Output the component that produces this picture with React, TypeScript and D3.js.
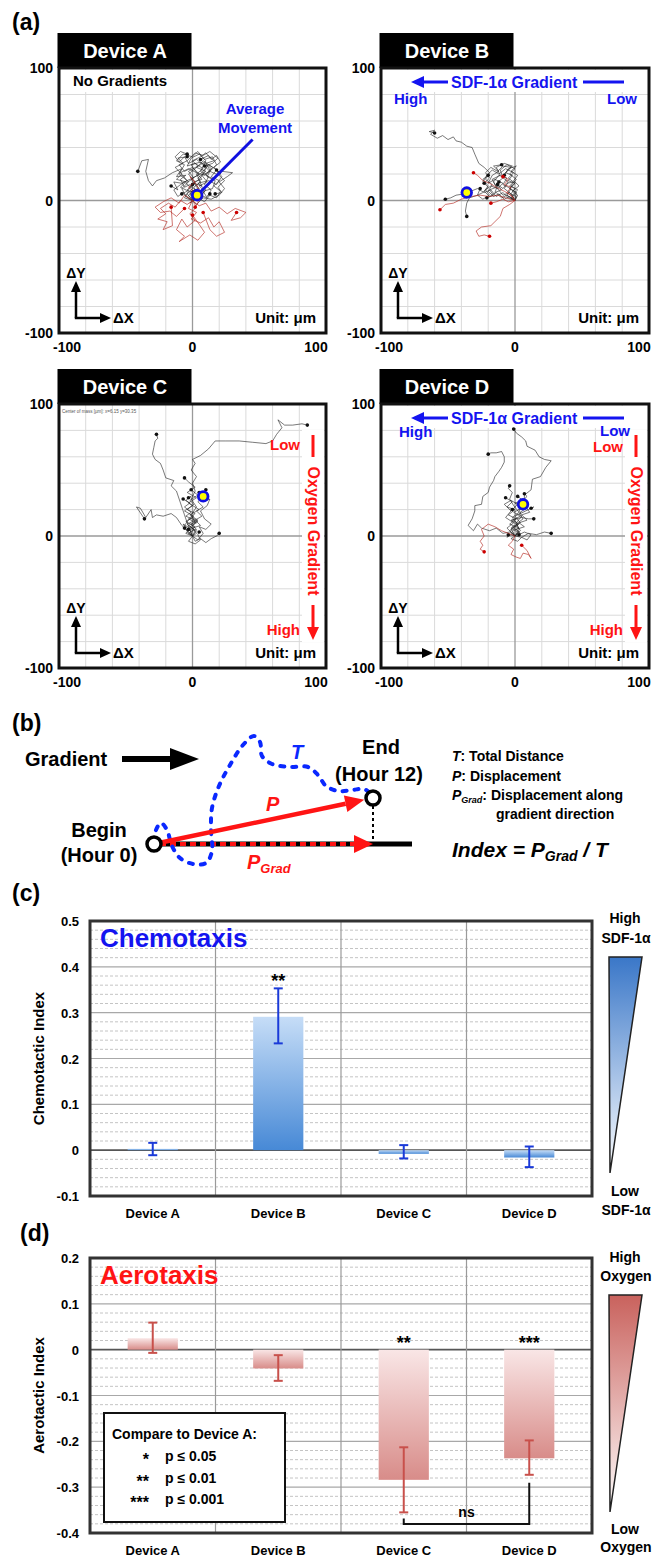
import React from 'react';
import * as d3 from 'd3';

const FF = "'Liberation Sans', Arial, Helvetica, sans-serif";
const BLUE = '#1414f0';
const RED = '#ff1414';

// ---------- panel (a) data (units: µm) ----------
const trackDomain = [-100, 100];
const trackTicks = [-100, 0, 100];
const gridValues = [-80, -60, -40, -20, 20, 40, 60, 80];

const blackTracksA = [
  [[0,0],[-3,4],[2,8],[-2,12],[-6,10],[-9,16],[-5,19],[-12,18],[-8,24],[-15,21],[-21,17],[-27,15],[-30,11],[-33,15],[-35,22],[-33,31],[-38,30],[-41,22]],
  [[0,0],[4,5],[1,10],[6,14],[3,20],[8,24],[2,28],[-4,26],[-1,32],[5,35],[10,30],[6,22],[12,18],[9,12],[14,8],[11,3],[13,5]],
  [[0,0],[-5,3],[-8,9],[-3,14],[-10,20],[-6,27],[-12,30],[-7,35],[0,33],[4,37],[9,31],[15,33],[18,27],[13,22],[20,19],[24,15],[19,10],[22,6],[17,5]],
  [[0,0],[6,3],[10,8],[4,13],[12,15],[18,12],[22,18],[17,24],[12,27],[6,20],[-2,16],[-8,13],[-14,14],[-11,8],[-16,11]],
  [[0,0],[3,-3],[8,2],[14,1],[20,4],[24,9],[20,14],[26,18],[30,21],[22,22],[16,16],[10,19],[15,25],[8,30],[2,24],[-3,20],[2,14],[-4,7],[-8,5]],
  [[0,0],[-2,6],[4,9],[-1,16],[5,20],[0,25],[-6,22],[-10,27],[-4,30],[2,36],[8,34],[13,37],[19,32],[15,28],[9,26]],
  [[0,0],[2,5],[-4,8],[1,13],[7,11],[4,17],[10,22],[3,25],[9,29],[14,24],[11,18],[17,15],[15,9],[8,7],[11,2],[6,4]],
  [[0,0],[-3,2],[-7,6],[-11,3],[-14,8],[-9,12],[-4,15],[-9,21],[-3,24],[3,21],[-1,27],[6,29],[11,26],[6,17],[0,12]],
  [[0,0],[5,2],[9,7],[5,11],[11,14],[7,19],[13,22],[8,27],[3,31],[-3,28],[-6,33],[-10,29],[-13,33],[-9,37],[-4,35]],
  [[0,0],[-4,5],[0,9],[-5,13],[1,17],[-3,22],[4,26],[0,30],[6,33],[10,36],[14,31],[18,34],[21,29],[16,25],[20,21]],
  [[0,0],[3,3],[-1,7],[5,9],[1,14],[7,16],[3,21],[9,19],[13,23],[10,28],[16,30],[12,34],[6,31]],
  [[0,0],[-2,-2],[4,2],[9,-1],[13,4],[18,2],[21,7],[16,11],[20,15],[14,18],[18,23]],
  [[0,0],[-6,2],[-3,7],[-9,10],[-5,14],[-12,16],[-8,20],[-13,25],[-7,28],[-11,32],[-4,33]],
];
const redTracksA = [
  [[0,0],[-4,-3],[-9,0],[-13,-5],[-18,-2],[-24,-6],[-20,-10],[-26,-14],[-19,-16],[-22,-22],[-15,-19],[-16,-5]],
  [[0,0],[3,-5],[-2,-10],[2,-15],[-4,-20],[-8,-14],[-12,-22],[-6,-27],[-10,-31],[-2,-26],[4,-30],[9,-24],[5,-18],[0,-11]],
  [[0,0],[5,-4],[10,-2],[14,-8],[20,-5],[26,-10],[32,-6],[40,-9],[36,-13],[29,-15],[33,-9]],
  [[0,0],[-3,-6],[3,-9],[-1,-14],[6,-17],[12,-13],[16,-20],[20,-16],[24,-24],[18,-27],[13,-22],[8,-9]],
  [[0,0],[-6,4],[-10,-2],[-16,2],[-22,-1],[-28,-5],[-24,-9],[-17,-8],[-12,-12],[-6,-6]],
  [[0,0],[2,6],[-3,10],[2,14],[-2,18],[3,12],[6,6],[4,-2],[2,-5]],
];
const avgA = [3.5, 4];
const avgLabelA = [45, 46];

const blackTracksB = [
  [[0,0],[-4,3],[-8,1],[-12,5],[-16,3],[-20,7],[-17,12],[-22,16],[-19,21],[-23,25],[-27,28],[-30,35],[-32,40],[-36,41],[-40,44],[-44,45],[-46,48],[-50,46],[-54,49],[-58,47],[-63,50],[-60,53],[-64,52],[-60,51]],
  [[0,0],[-3,5],[-8,9],[-5,14],[-10,18],[-6,22],[-2,26],[-8,28],[-14,25],[-11,19],[-17,16],[-14,10],[-19,8],[-16,4],[-21,2]],
  [[0,0],[-2,4],[2,8],[-3,11],[1,16],[-4,20],[0,24],[-6,27],[-11,23],[-9,17],[-14,13],[-10,8],[-15,6],[-12,14]],
  [[0,0],[-5,2],[-9,6],[-14,3],[-18,8],[-23,6],[-28,9],[-33,7],[-38,5],[-44,4],[-48,2],[-52,1]],
  [[0,0],[1,6],[-4,9],[0,13],[-5,17],[-1,21],[-7,24],[-12,20],[-17,23],[-21,19],[-24,14],[-20,10],[-24,6],[-28,4],[-34,2],[-36,-2],[-37,-8],[-36,-12]],
  [[0,0],[-6,4],[-3,9],[-9,12],[-6,17],[-12,19],[-16,14],[-13,9],[-18,11],[-22,8],[-19,4],[-24,1],[-28,4],[-26,9]],
  [[0,0],[-3,2],[1,6],[-4,9],[0,13],[-5,15],[-2,19],[-7,21],[-3,25],[-9,26],[-13,22],[-18,25],[-22,21],[-19,17],[-23,13]],
  [[0,0],[2,4],[-2,7],[3,11],[-1,15],[2,19],[-3,22],[1,26],[-5,24],[-8,19]],
  [[0,0],[-4,6],[-9,4],[-13,9],[-9,13],[-15,16],[-20,13],[-17,19],[-12,22],[-16,26],[-10,27]],
  [[0,0],[-2,1],[-6,4],[-10,2],[-14,6],[-19,3],[-23,7],[-20,11],[-24,16],[-20,19]],
  [[0,0],[1,3],[-3,5],[0,9],[-4,11],[-1,14],[-6,13],[-9,9],[-13,12]],
];
const redTracksB = [
  [[0,0],[-4,-3],[-9,-6],[-11,-12],[-15,-16],[-18,-19],[-25,-20],[-29,-23],[-27,-27],[-23,-26],[-19,-27]],
  [[0,0],[-7,2],[-13,4],[-19,3],[-26,4],[-33,3],[-40,1],[-46,-2],[-52,-3],[-56,-7]],
  [[0,0],[-3,4],[-8,7],[-14,10],[-19,13],[-24,15],[-28,19],[-31,21]],
  [[0,0],[-5,-1],[-9,1],[-14,-1],[-18,-2]],
  [[0,0],[-2,3],[-6,6],[-3,10],[-8,12],[-5,16],[-9,18]],
];
const avgB = [-36, 6];

const blackTracksC = [
  [[0,0],[-2,5],[2,10],[-1,16],[3,22],[-1,28],[2,34],[0,40],[3,45],[-1,50],[2,55],[0,58],[6,61],[12,66],[17,72],[25,72],[35,72],[45,71],[55,70],[60,72],[63,77],[67,82],[64,88],[69,84],[75,84],[82,85],[86,84]],
  [[0,0],[-2,5],[-4,10],[-6,16],[-8,22],[-10,28],[-12,34],[-16,38],[-14,42],[-20,44],[-22,50],[-24,55],[-28,58],[-30,62],[-29,67],[-28,72],[-26,74],[-27,77]],
  [[0,0],[-4,4],[-8,8],[-12,14],[-16,17],[-22,15],[-27,16],[-30,14],[-31,20],[-35,14],[-39,21],[-42,22],[-38,16],[-36,13]],
  [[0,0],[3,4],[-3,8],[4,12],[-2,16],[5,20],[-3,25],[3,29],[-4,33],[2,37],[-3,41],[-6,44]],
  [[0,0],[-4,3],[2,7],[-5,11],[1,15],[-6,19],[0,23],[-5,27],[-1,30],[-3,29]],
  [[0,0],[4,-3],[8,2],[5,7],[10,5],[14,9],[9,13],[6,19],[11,23],[13,28],[8,26],[10,35]],
  [[0,0],[2,-4],[6,-2],[10,-5],[14,-2],[18,0],[20,2]],
  [[0,0],[-3,-4],[2,-6],[6,-3],[4,1],[5,3]],
  [[0,0],[-5,2],[-2,6],[-7,9],[-4,4],[-6,6]],
  [[0,0],[2,4],[-2,7],[3,10],[-3,13],[2,17],[-4,20],[1,24],[-2,27],[4,31],[-1,35]],
  [[0,0],[-3,2],[1,5],[-4,9],[2,12],[-5,15],[-1,18],[-6,22],[-2,25],[-7,28]],
  [[0,0],[3,2],[0,6],[6,8],[2,12],[7,15],[3,19],[8,22],[4,26],[9,30],[5,33]],
  [[0,0],[-2,3],[3,5],[-1,9],[4,11],[0,14],[-3,12],[-6,8],[-3,5]],
];
const redTracksC = [];
const avgC = [8, 30];

const blackTracksD = [
  [[0,0],[3,5],[1,10],[5,15],[3,20],[7,25],[7,31],[12,35],[13,43],[19,45],[23,52],[27,57],[22,58],[18,60],[15,65],[9,68],[8,72],[5,75],[1,78],[-1,81]],
  [[0,0],[-4,3],[-9,2],[-14,6],[-19,4],[-25,6],[-28,9],[-31,4],[-35,8],[-32,13],[-30,19],[-30,23],[-25,24],[-24,30],[-20,33],[-19,37],[-16,42],[-15,45],[-12,49],[-10,52],[-8,56],[-8,60],[-10,64],[-14,63],[-18,63],[-20,62]],
  [[0,0],[-3,5],[2,9],[-2,14],[3,18],[-1,23],[-4,28],[-2,33],[-5,36],[-4,38]],
  [[0,0],[4,4],[1,9],[6,13],[3,17],[8,21],[5,26],[9,30],[7,32]],
  [[0,0],[3,3],[-2,7],[4,10],[0,15],[6,18],[10,20],[14,22],[12,21]],
  [[0,0],[-4,4],[2,8],[-3,12],[5,14],[10,13],[14,13]],
  [[0,0],[5,-1],[10,2],[16,1],[22,3],[27,2]],
  [[0,0],[-3,1],[-6,-1],[-5,1]],
  [[0,0],[-6,6],[-1,10],[-7,14],[-3,19],[-8,24],[-3,27],[2,24],[-2,20]],
  [[0,0],[2,3],[-3,6],[3,9],[-2,12],[4,15],[-1,18],[5,21],[0,25],[6,27],[2,30]],
  [[0,0],[-2,4],[3,6],[-4,9],[1,13],[-5,16],[0,20],[-6,22],[-2,26],[-7,29]],
  [[0,0],[4,2],[1,5],[7,7],[3,10],[9,12],[5,16],[11,18],[8,22]],
  [[0,0],[-3,-2],[2,-4],[5,-1],[9,-3],[12,1],[7,3],[3,1]],
];
const redTracksD = [
  [[0,0],[-5,2],[-10,4],[-15,7],[-20,9],[-25,5],[-23,0],[-26,-4],[-24,-7],[-26,-10],[-23,-12]],
  [[0,0],[-2,-4],[-5,-7],[-1,-10],[-3,-14],[1,-16],[4,-17],[6,-13],[10,-14],[12,-17],[9,-11],[5,-7]],
];
const avgD = [6, 24];

// ---------- panel (b) schematic ----------
const beginPt = [154, 844];
const endPt = [373, 798];
const tPathPts = [[154,842],[156,830],[161,823],[167,830],[172,846],[180,858],[193,864],[206,863],[212,851],[211,830],[212,808],[219,786],[230,765],[243,745],[254,736],[260,742],[262,756],[272,764],[290,767],[308,767],[318,775],[326,786],[338,791],[352,790],[364,789],[370,793]];

// ---------- panels (c) and (d) ----------
const devices = ['Device A', 'Device B', 'Device C', 'Device D'];
const chemoMean = [0.003, 0.291, -0.008, -0.016];
const chemoErrLow = [-0.011, 0.233, -0.018, -0.037];
const chemoErrHigh = [0.016, 0.353, 0.011, 0.008];
const chemoStars = ['', '**', '', ''];
const chemoDomain = [-0.1, 0.5];
const chemoTicks = [0.5, 0.4, 0.3, 0.2, 0.1, 0, -0.1];

const aeroMean = [0.025, -0.041, -0.284, -0.237];
const aeroErrLow = [-0.007, -0.068, -0.355, -0.273];
const aeroErrHigh = [0.059, -0.012, -0.213, -0.198];
const aeroStars = ['', '', '**', '***'];
const aeroDomain = [-0.4, 0.2];
const aeroTicks = [0.2, 0.1, 0, -0.1, -0.2, -0.3, -0.4];

const legendRows = [['*', 'p ≤ 0.05'], ['**', 'p ≤ 0.01'], ['***', 'p ≤ 0.001']];

const boxA = { x0: 59, y0: 68, x1: 326, y1: 333 };
const boxB = { x0: 381, y0: 68, x1: 649, y1: 333 };
const boxC = { x0: 59, y0: 404, x1: 326, y1: 668 };
const boxD = { x0: 381, y0: 404, x1: 649, y1: 668 };

function fmtTick(v) {
  if (Math.abs(v) < 1e-9) return '0';
  return String(+v.toFixed(1));
}

function SdfLabel({ box, hiDy, lowDx, lowDy }) {
  const { x0, y0, x1 } = box;
  const ay = y0 + 14;
  return (
    <g fontWeight="bold" fill={BLUE}>
      <line x1={x0 + 40} y1={ay} x2={x0 + 67} y2={ay} stroke={BLUE} strokeWidth={3} />
      <polygon points={`${x0 + 30},${ay} ${x0 + 43},${ay - 6} ${x0 + 43},${ay + 6}`} fill={BLUE} />
      <text x={x0 + 70} y={y0 + 20} fontSize={16}>SDF-1α Gradient</text>
      <line x1={x0 + 202} y1={ay} x2={x0 + 243} y2={ay} stroke={BLUE} strokeWidth={3} />
      <text x={x0 + (hiDy > 34 ? 13 : 18)} y={y0 + hiDy} fontSize={15}>High</text>
      <text x={x1 - lowDx} y={y0 + lowDy} fontSize={15} textAnchor="end">Low</text>
    </g>
  );
}

function OxygenLabel({ box, lowDy }) {
  const { x0, y0, x1 } = box;
  const lx = x1 - 13;
  return (
    <g fontWeight="bold" fill={RED}>
      <text x={x1 - 26} y={y0 + lowDy} fontSize={15} textAnchor="end">Low</text>
      <line x1={lx} y1={y0 + 31} x2={lx} y2={y0 + 53} stroke={RED} strokeWidth={3} />
      <text transform={`translate(${lx},${y0 + 127}) rotate(90)`} fontSize={16} textAnchor="middle" dominantBaseline="central">Oxygen Gradient</text>
      <line x1={lx} y1={y0 + 201} x2={lx} y2={y0 + 226} stroke={RED} strokeWidth={3} />
      <polygon points={`${lx - 6},${y0 + 223} ${lx + 6},${y0 + 223} ${lx},${y0 + 236}`} fill={RED} />
      <text x={x1 - 26} y={y0 + 231} fontSize={15} textAnchor="end">High</text>
    </g>
  );
}

function TrajPanel({ box, title, black, red, avg, under, over }) {
  const { x0, y0, x1, y1 } = box;
  const xs = d3.scaleLinear().domain(trackDomain).range([x0, x1]);
  const ys = d3.scaleLinear().domain(trackDomain).range([y1, y0]);
  const line = d3.line().x((d) => xs(d[0])).y((d) => ys(d[1]));
  const cx = x0 + 17;
  const cy = y1 - 15;
  return (
    <g>
      <rect x={x0 - 1.5} y={y0 - 35} width={134} height={35} fill="#000" />
      <text x={x0 + 66} y={y0 - 10} textAnchor="middle" fill="#fff" fontSize={20} fontWeight="bold">{title}</text>
      <rect x={x0} y={y0} width={x1 - x0} height={y1 - y0} fill="#fff" />
      {gridValues.map((v) => (
        <g key={v}>
          <line x1={xs(v)} x2={xs(v)} y1={y0} y2={y1} stroke="#dadada" strokeWidth={1} />
          <line x1={x0} x2={x1} y1={ys(v)} y2={ys(v)} stroke="#dadada" strokeWidth={1} />
        </g>
      ))}
      <line x1={xs(0)} x2={xs(0)} y1={y0} y2={y1} stroke="#9a9a9a" strokeWidth={1.3} />
      <line x1={x0} x2={x1} y1={ys(0)} y2={ys(0)} stroke="#9a9a9a" strokeWidth={1.3} />
      {under && under(xs, ys)}
      {black.map((t, i) => (
        <g key={'b' + i}>
          <path d={line(t)} fill="none" stroke="#222" strokeOpacity={0.8} strokeWidth={0.75} strokeLinejoin="round" />
          <circle cx={xs(t[t.length - 1][0])} cy={ys(t[t.length - 1][1])} r={1.8} fill="#111" />
        </g>
      ))}
      {red.map((t, i) => (
        <g key={'r' + i}>
          <path d={line(t)} fill="none" stroke="#b3261e" strokeOpacity={0.85} strokeWidth={0.75} strokeLinejoin="round" />
          <circle cx={xs(t[t.length - 1][0])} cy={ys(t[t.length - 1][1])} r={1.8} fill="#c00" />
        </g>
      ))}
      {over && over(xs, ys)}
      <circle cx={xs(avg[0])} cy={ys(avg[1])} r={4.8} fill="#ffff00" stroke="#1010e0" strokeWidth={2.8} />
      {/* axes arrows */}
      <line x1={cx} y1={cy} x2={cx} y2={cy - 28} stroke="#000" strokeWidth={2.5} />
      <polygon points={`${cx - 5},${cy - 26} ${cx + 5},${cy - 26} ${cx},${cy - 37}`} fill="#000" />
      <line x1={cx - 1.2} y1={cy} x2={cx + 26} y2={cy} stroke="#000" strokeWidth={2.5} />
      <polygon points={`${cx + 24},${cy - 5} ${cx + 24},${cy + 5} ${cx + 35},${cy}`} fill="#000" />
      <text x={cx} y={cy - 40} textAnchor="middle" fontSize={14} fontWeight="bold">ΔY</text>
      <text x={cx + 37} y={cy + 5} fontSize={15} fontWeight="bold">ΔX</text>
      <text x={x1 - 10} y={cy + 5} textAnchor="end" fontSize={15} fontWeight="bold">Unit: μm</text>
      <rect x={x0} y={y0} width={x1 - x0} height={y1 - y0} fill="none" stroke="#111" strokeWidth={3} />
      {trackTicks.map((v) => (
        <text key={'y' + v} x={x0 - 6} y={ys(v) + 5} textAnchor="end" fontSize={14} fontWeight="bold">{v}</text>
      ))}
      {trackTicks.map((v) => (
        <text key={'x' + v} x={xs(v) + (v < 0 ? 8 : v > 0 ? -10 : 0)} y={y1 + 19} textAnchor="middle" fontSize={14} fontWeight="bold">{v}</text>
      ))}
    </g>
  );
}

function BarChart({ top, bottom, domain, ticks, mean, lo, hi, stars, gradId, errColor, title, titleColor, yLabel }) {
  const x = d3.scaleBand().domain(devices).range([90, 592]).paddingInner(0).paddingOuter(0);
  const y = d3.scaleLinear().domain(domain).range([bottom, top]);
  const minor = d3.range(0, 31).filter((i) => i % 5 !== 0).map((i) => domain[0] + i * 0.02);
  const bw = x.bandwidth() * 0.4;
  const mid = (d) => x(d) + x.bandwidth() / 2;
  return (
    <g>
      <rect x={90} y={top} width={502} height={bottom - top} fill="#fff" />
      {minor.map((v, i) => (
        <line key={'m' + i} x1={90} x2={592} y1={y(v)} y2={y(v)} stroke="#c4c4c4" strokeWidth={1} strokeDasharray="3 2" />
      ))}
      {ticks.map((v) => (
        <line key={'t' + v} x1={90} x2={592} y1={y(v)} y2={y(v)} stroke={Math.abs(v) < 1e-9 ? '#555' : '#a8a8a8'} strokeWidth={Math.abs(v) < 1e-9 ? 1.6 : 1.2} />
      ))}
      {devices.slice(1).map((d) => (
        <line key={'v' + d} x1={x(d)} x2={x(d)} y1={top} y2={bottom} stroke="#9a9a9a" strokeWidth={1.2} />
      ))}
      <text x={100} y={top + 26} fontSize={26} fontWeight="bold" fill={titleColor}>{title}</text>
      {devices.map((d, i) => (
        <rect key={'bar' + d} x={mid(d) - bw / 2} y={y(Math.max(0, mean[i]))} width={bw} height={Math.abs(y(mean[i]) - y(0))} fill={`url(#${gradId})`} />
      ))}
      {devices.map((d, i) => (
        <g key={'e' + d} stroke={errColor} strokeWidth={2}>
          <line x1={mid(d)} x2={mid(d)} y1={y(lo[i])} y2={y(hi[i])} />
          <line x1={mid(d) - 4.5} x2={mid(d) + 4.5} y1={y(lo[i])} y2={y(lo[i])} />
          <line x1={mid(d) - 4.5} x2={mid(d) + 4.5} y1={y(hi[i])} y2={y(hi[i])} />
        </g>
      ))}
      {devices.map((d, i) => stars[i] ? (
        <text key={'s' + d} x={mid(d)} y={y(Math.max(0, hi[i])) - 1} textAnchor="middle" fontSize={18} fontWeight="bold">{stars[i]}</text>
      ) : null)}
      <rect x={90} y={top} width={502} height={bottom - top} fill="none" stroke="#333" strokeWidth={3} />
      {ticks.map((v) => (
        <text key={'l' + v} x={79} y={y(v) + 5} textAnchor="end" fontSize={13} fontWeight="bold">{fmtTick(v)}</text>
      ))}
      <text transform={`translate(44,${(top + bottom) / 2}) rotate(-90)`} textAnchor="middle" fontSize={15} fontWeight="bold">{yLabel}</text>
      {devices.map((d) => (
        <text key={'x' + d} x={mid(d)} y={bottom + 22} textAnchor="middle" fontSize={13} fontWeight="bold">{d}</text>
      ))}
    </g>
  );
}

export default function App() {
  const tLine = d3.line().curve(d3.curveCatmullRom)(tPathPts);
  const dx = endPt[0] - beginPt[0];
  const dy = endPt[1] - beginPt[1];
  const len = Math.hypot(dx, dy);
  const ux = dx / len, uy = dy / len;
  const tip = [endPt[0] - ux * 9, endPt[1] - uy * 9];
  const base = [tip[0] - ux * 19, tip[1] - uy * 19];
  const nx = -uy, ny = ux;

  // aerotaxis bracket
  const xb = d3.scaleBand().domain(devices).range([90, 592]);
  const ya = d3.scaleLinear().domain(aeroDomain).range([1533, 1258]);
  const cMid = xb('Device C') + xb.bandwidth() / 2;
  const dMid = xb('Device D') + xb.bandwidth() / 2;
  const brY = 1524;

  return (
    <svg width={653} height={1559} viewBox="0 0 653 1559" style={{ position: 'absolute', left: 0, top: 0 }} fontFamily={FF}>
      <defs>
        <linearGradient id="gBlue" x1="0" y1="0" x2="0" y2="1">
          <stop offset="0" stopColor="#c6ddf7" />
          <stop offset="1" stopColor="#4789d6" />
        </linearGradient>
        <linearGradient id="gRed" x1="0" y1="0" x2="0" y2="1">
          <stop offset="0" stopColor="#f9e6e6" />
          <stop offset="1" stopColor="#d88c89" />
        </linearGradient>
        <linearGradient id="triBlue" x1="0" y1="0" x2="0" y2="1">
          <stop offset="0" stopColor="#3a77c8" />
          <stop offset="1" stopColor="#ffffff" />
        </linearGradient>
        <linearGradient id="triRed" x1="0" y1="0" x2="0" y2="1">
          <stop offset="0" stopColor="#c9625d" />
          <stop offset="1" stopColor="#ffffff" />
        </linearGradient>
      </defs>
      <rect width={653} height={1559} fill="#fff" />

      {/* ---------------- (a) ---------------- */}
      <text x={12} y={30} fontSize={23} fontWeight="bold">(a)</text>
      <TrajPanel box={boxA} title="Device A" black={blackTracksA} red={redTracksA} avg={avgA}
        under={() => <rect x={boxA.x0 + 2} y={boxA.y0 + 2} width={116} height={22} fill="#fff" />}
        over={(xs, ys) => (
          <g>
            <line x1={xs(avgA[0])} y1={ys(avgA[1])} x2={xs(avgLabelA[0])} y2={ys(avgLabelA[1])} stroke="#1010e0" strokeWidth={3} />
            <text x={boxA.x0 + 14} y={boxA.y0 + 18} fontSize={15} fontWeight="bold">No Gradients</text>
            <text x={255} y={114} textAnchor="middle" fontSize={15} fontWeight="bold" fill={BLUE}>Average</text>
            <text x={255} y={133} textAnchor="middle" fontSize={15} fontWeight="bold" fill={BLUE}>Movement</text>
          </g>
        )}
      />
      <TrajPanel box={boxB} title="Device B" black={blackTracksB} red={redTracksB} avg={avgB}
        under={() => <rect x={boxB.x0 + 2} y={boxB.y0 + 2} width={boxB.x1 - boxB.x0 - 4} height={22} fill="#fff" />}
        over={() => <SdfLabel box={boxB} hiDy={36} lowDx={12} lowDy={36} />}
      />
      <TrajPanel box={boxC} title="Device C" black={blackTracksC} red={redTracksC} avg={avgC}
        under={() => <rect x={boxC.x1 - 24} y={boxC.y0 + 26} width={22} height={boxC.y1 - boxC.y0 - 52} fill="#fff" />}
        over={() => (
          <g>
            <text x={boxC.x0 + 3} y={boxC.y0 + 9} fontSize={4.5} fill="#555">Center of mass [µm]: x=6.15 y=30.35</text>
            <OxygenLabel box={boxC} lowDy={46} />
          </g>
        )}
      />
      <TrajPanel box={boxD} title="Device D" black={blackTracksD} red={redTracksD} avg={avgD}
        under={() => (
          <g>
            <rect x={boxD.x0 + 2} y={boxD.y0 + 2} width={boxD.x1 - boxD.x0 - 4} height={22} fill="#fff" />
            <rect x={boxD.x1 - 24} y={boxD.y0 + 26} width={22} height={boxD.y1 - boxD.y0 - 52} fill="#fff" />
          </g>
        )}
        over={() => (
          <g>
            <SdfLabel box={boxD} hiDy={33} lowDx={19} lowDy={32} />
            <OxygenLabel box={boxD} lowDy={48} />
          </g>
        )}
      />

      {/* ---------------- (b) ---------------- */}
      <text x={12} y={731} fontSize={23} fontWeight="bold">(b)</text>
      <text x={25} y={766} fontSize={20} fontWeight="bold">Gradient</text>
      <line x1={122} y1={759} x2={174} y2={759} stroke="#000" strokeWidth={6} />
      <polygon points="170,748 199,759 170,770" fill="#000" />
      <line x1={beginPt[0]} y1={beginPt[1]} x2={412} y2={beginPt[1]} stroke="#000" strokeWidth={5} />
      <line x1={beginPt[0] + 6} y1={beginPt[1]} x2={356} y2={beginPt[1]} stroke={RED} strokeWidth={4} strokeDasharray="6 4" />
      <polygon points={`354,835 ${endPt[0]},844 354,853`} fill={RED} />
      <line x1={endPt[0]} y1={endPt[1] + 8} x2={endPt[0]} y2={841} stroke="#000" strokeWidth={2} strokeDasharray="3 3" />
      <path d={tLine} fill="none" stroke="#0a28ff" strokeWidth={4} strokeDasharray="4 8" strokeLinecap="round" />
      <line x1={beginPt[0] + ux * 6} y1={beginPt[1] + uy * 6} x2={base[0]} y2={base[1]} stroke={RED} strokeWidth={4.5} />
      <polygon points={`${tip[0]},${tip[1]} ${base[0] + nx * 8.5},${base[1] + ny * 8.5} ${base[0] - nx * 8.5},${base[1] - ny * 8.5}`} fill={RED} />
      <circle cx={beginPt[0]} cy={beginPt[1]} r={7} fill="#fff" stroke="#000" strokeWidth={3.5} />
      <circle cx={endPt[0]} cy={endPt[1]} r={7} fill="#fff" stroke="#000" strokeWidth={3.5} />
      <g fontWeight="bold" fontSize={20}>
        <text x={99} y={837} textAnchor="middle">Begin</text>
        <text x={99} y={862} textAnchor="middle">(Hour 0)</text>
        <text x={381} y={754} textAnchor="middle">End</text>
        <text x={379} y={781} textAnchor="middle">(Hour 12)</text>
        <text x={291} y={759} fontStyle="italic" fill="#0a28ff">T</text>
        <text x={266} y={811} fontStyle="italic" fill={RED}>P</text>
        <text x={247} y={869} fontStyle="italic" fill={RED}>P<tspan fontSize={13} dy={4}>Grad</tspan></text>
      </g>
      <g fontWeight="bold" fontSize={14}>
        <text x={452} y={761}><tspan fontStyle="italic">T</tspan>: Total Distance</text>
        <text x={452} y={781}><tspan fontStyle="italic">P</tspan>: Displacement</text>
        <text x={452} y={800}><tspan fontStyle="italic">P</tspan><tspan fontStyle="italic" fontSize={9} dy={3}>Grad</tspan><tspan dy={-3}>: Displacement along</tspan></text>
        <text x={496} y={819}>gradient direction</text>
        <text x={452} y={857} fontSize={21} fontStyle="italic">Index = P<tspan fontSize={14} dy={4}>Grad</tspan><tspan dy={-4}> / T</tspan></text>
      </g>

      {/* ---------------- (c) ---------------- */}
      <text x={12} y={901} fontSize={23} fontWeight="bold">(c)</text>
      <BarChart top={921} bottom={1196} domain={chemoDomain} ticks={chemoTicks} mean={chemoMean} lo={chemoErrLow} hi={chemoErrHigh}
        stars={chemoStars} gradId="gBlue" errColor="#1a3ad8" title="Chemotaxis" titleColor={BLUE} yLabel="Chemotactic Index" />
      <polygon points="609,957 642,957 610,1173" fill="url(#triBlue)" stroke="#222" strokeWidth={1.5} />
      <g fontWeight="bold" fontSize={14} textAnchor="middle">
        <text x={625} y={923}>High</text>
        <text x={626} y={943}>SDF-1α</text>
        <text x={625} y={1196}>Low</text>
        <text x={626} y={1215}>SDF-1α</text>
      </g>

      {/* ---------------- (d) ---------------- */}
      <text x={20} y={1241} fontSize={23} fontWeight="bold">(d)</text>
      <BarChart top={1258} bottom={1533} domain={aeroDomain} ticks={aeroTicks} mean={aeroMean} lo={aeroErrLow} hi={aeroErrHigh}
        stars={aeroStars} gradId="gRed" errColor="#c8504b" title="Aerotaxis" titleColor={RED} yLabel="Aerotactic Index" />
      <polyline points={`${cMid},${ya(aeroErrLow[2]) + 6} ${cMid},${brY} ${dMid},${brY} ${dMid},${ya(aeroErrLow[3]) + 8}`} fill="none" stroke="#111" strokeWidth={2} />
      <text x={(cMid + dMid) / 2} y={1517} textAnchor="middle" fontSize={14} fontWeight="bold">ns</text>
      <rect x={104} y={1413} width={181} height={109} fill="#fff" stroke="#111" strokeWidth={2} />
      <text x={112} y={1439} fontSize={14} fontWeight="bold">Compare to Device A:</text>
      {legendRows.map((r, i) => (
        <g key={r[0]} fontWeight="bold" fontSize={14}>
          <text x={149} y={1465 + i * 21.5} textAnchor="end" fontSize={16}>{r[0]}</text>
          <text x={165} y={1461 + i * 21.5}>{r[1]}</text>
        </g>
      ))}
      <polygon points="609,1295 642,1295 610,1512" fill="url(#triRed)" stroke="#222" strokeWidth={1.5} />
      <g fontWeight="bold" fontSize={14} textAnchor="middle">
        <text x={625} y={1262}>High</text>
        <text x={626} y={1281}>Oxygen</text>
        <text x={625} y={1534}>Low</text>
        <text x={626} y={1552}>Oxygen</text>
      </g>
    </svg>
  );
}
